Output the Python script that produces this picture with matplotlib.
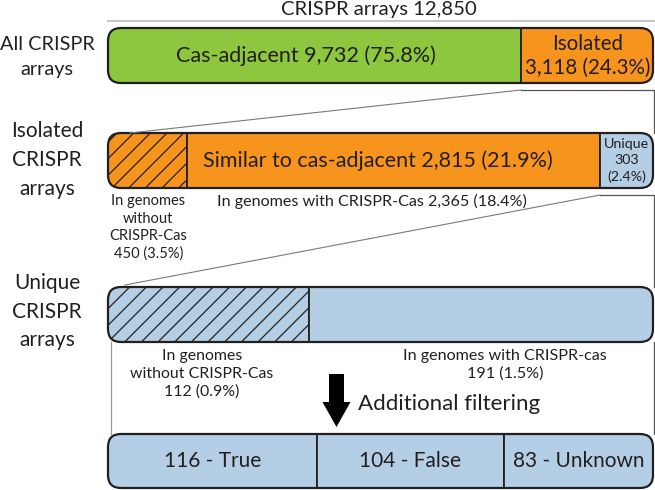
import matplotlib
matplotlib.use("Agg")
import matplotlib.pyplot as plt
from matplotlib.patches import FancyBboxPatch, FancyArrow
import numpy as np

# ---------------- data ----------------
total_arrays = 12850
all_labels = ["Cas-adjacent", "Isolated"]
all_values = [9732, 3118]
all_pct = [75.8, 24.3]

iso_labels = ["In genomes without CRISPR-Cas", "In genomes with CRISPR-Cas", "Unique"]
iso_values = [450, 2365, 303]
iso_pct = [3.5, 18.4, 2.4]
similar_value = 2815
similar_pct = 21.9

uniq_labels = ["In genomes without CRISPR-Cas", "In genomes with CRISPR-cas"]
uniq_values = [112, 191]
uniq_pct = [0.9, 1.5]

filt_labels = ["True", "False", "Unknown"]
filt_values = [116, 104, 83]

row_labels = ["All CRISPR\narrays", "Isolated\nCRISPR\narrays", "Unique\nCRISPR\narrays"]

# ---------------- style ----------------
plt.rcParams['font.family'] = ['Lato', 'DejaVu Sans']
plt.rcParams['hatch.linewidth'] = 0.9
DARK = '#231F20'
GREEN = '#8DC63F'
ORANGE = '#F7941D'
BLUE = '#B4CFE5'
GRAY = '#7a7a7a'

W, H = 655, 490
fig = plt.figure(figsize=(W / 100, H / 100), dpi=100)
ax = fig.add_axes([0, 0, 1, 1])
ax.set_xlim(0, W)
ax.set_ylim(H, 0)
ax.axis('off')
ax.set_zorder(10)
ax.patch.set_alpha(0)

BX, BW, R = 108, 545, 13


def to_main(bax, xy):
    disp = bax.transData.transform(xy)
    return ax.transData.inverted().transform(disp)


def draw_row(ytop, h, values, colors, hatches):
    bax = fig.add_axes([BX / W, 1 - (ytop + h) / H, BW / W, h / H])
    total = sum(values)
    bax.set_xlim(0, total)
    bax.set_ylim(0, 1)
    bax.axis('off')
    rs = R * total / BW
    outline = FancyBboxPatch((0, 0), total, 1,
                             boxstyle=f"round,pad=0,rounding_size={rs}",
                             mutation_aspect=BW / (h * total),
                             facecolor='none', edgecolor=DARK, lw=1.6, zorder=5)
    bax.add_patch(outline)
    outline.set_clip_on(False)
    lefts = np.concatenate([[0], np.cumsum(values)[:-1]])
    bars = bax.barh(0.5, values, left=lefts, height=1, color=colors,
                    edgecolor=DARK, linewidth=1.3)
    for b, hp in zip(bars, hatches):
        if hp:
            b.set_hatch(hp)
        b.set_clip_path(outline)
    return bax, lefts


# title and top rule
ax.text(379, 10, f"CRISPR arrays {total_arrays:,}", ha='center', va='center',
        fontsize=14.6, color=DARK)
ax.plot([BX, 654], [20.7, 20.7], color='#c4c4c4', lw=1.4)

# row 1
b1, l1 = draw_row(28, 55, all_values, [GREEN, ORANGE], [None, None])
c = to_main(b1, (l1[0] + all_values[0] / 2, 0.5))
ax.text(c[0] - 8, c[1], f"{all_labels[0]} {all_values[0]:,} ({all_pct[0]}%)",
        ha='center', va='center', fontsize=15.5, color=DARK)
c = to_main(b1, (l1[1] + all_values[1] / 2, 0.5))
ax.text(c[0] + 1, c[1], f"{all_labels[1]}\n{all_values[1]:,} ({all_pct[1]}%)",
        ha='center', va='center', fontsize=14.8, color=DARK, linespacing=1.25)

# row 2
b2, l2 = draw_row(133, 55, iso_values, [ORANGE, ORANGE, BLUE], ['//', None, None])
c = to_main(b2, (l2[1] + iso_values[1] / 2, 0.5))
ax.text(c[0] - 15, c[1], f"Similar to cas-adjacent {similar_value:,} ({similar_pct}%)",
        ha='center', va='center', fontsize=15.5, color=DARK)
c = to_main(b2, (l2[2] + iso_values[2] / 2, 0.5))
ax.text(c[0], c[1], f"{iso_labels[2]}\n{iso_values[2]}\n({iso_pct[2]}%)",
        ha='center', va='center', fontsize=10.3, color=DARK, linespacing=1.45)
c = to_main(b2, (l2[0] + iso_values[0] / 2, 0.5))
ax.text(c[0] + 1, 227.5, f"In genomes\nwithout\nCRISPR-Cas\n{iso_values[0]} ({iso_pct[0]}%)",
        ha='center', va='center', fontsize=10.5, color=DARK, linespacing=1.3)
ax.text(372, 201, f"{iso_labels[1]} {iso_values[1]:,} ({iso_pct[1]}%)",
        ha='center', va='center', fontsize=11.6, color=DARK)

# row 3
b3, l3 = draw_row(287, 55, uniq_values, [BLUE, BLUE], ['//', None])
ax.text(202, 374, f"In genomes\nwithout CRISPR-Cas\n{uniq_values[0]} ({uniq_pct[0]}%)",
        ha='center', va='center', fontsize=11.4, color=DARK, linespacing=1.3)
ax.text(505, 365, f"{uniq_labels[1]}\n{uniq_values[1]} ({uniq_pct[1]}%)",
        ha='center', va='center', fontsize=11.6, color=DARK, linespacing=1.3)

# row 4
b4, l4 = draw_row(434, 54, filt_values, [BLUE, BLUE, BLUE], [None, None, None])
for lab, v, lf in zip(filt_labels, filt_values, l4):
    c = to_main(b4, (lf + v / 2, 0.5))
    ax.text(c[0], c[1], f"{v} - {lab}", ha='center', va='center',
            fontsize=15, color=DARK)

# row labels
for lab, yc, fs in zip(row_labels, [57, 160, 311.5], [14.3, 15, 15]):
    ax.text(47, yc, lab, ha='center', va='center', fontsize=fs, color=DARK,
            linespacing=1.55)

# connectors
x_iso = to_main(b1, (l1[1], 0))[0]
x_end = to_main(b1, (sum(all_values), 0))[0] + 1
ax.plot([x_iso, 130], [90, 133], color=GRAY, lw=0.8)
ax.plot([x_iso, x_end, x_end], [90, 90, 133], color='#555555', lw=0.9)

x_uni = to_main(b2, (l2[2], 0))[0]
ax.plot([x_uni, 125], [195, 285], color=GRAY, lw=0.8)
ax.plot([x_uni, x_end, x_end], [195, 195, 287], color='#555555', lw=0.9)

ax.plot([111, 111], [342, 434], color='#999999', lw=0.9)
ax.plot([x_end, x_end], [342, 434], color='#555555', lw=0.9)

# arrow
ax.add_patch(FancyArrow(336.5, 374, 0, 53, width=15, head_width=28,
                        head_length=25, length_includes_head=True,
                        color='black', lw=0))
ax.text(358, 404, "Additional filtering", ha='left', va='center',
        fontsize=16, color=DARK)

fig.savefig("out.png", dpi=100)
